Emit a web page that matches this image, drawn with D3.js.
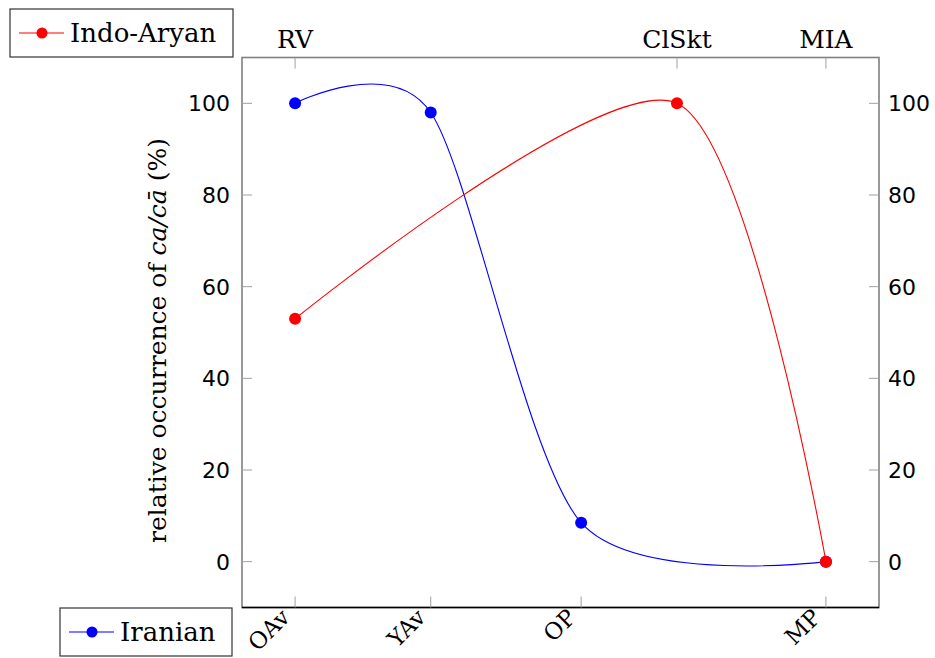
<!DOCTYPE html>
<html>
<head>
<meta charset="utf-8">
<script src="https://cdn.jsdelivr.net/npm/d3@7"></script>
<style>
  html, body { margin: 0; padding: 0; background: #fff; }
  svg { display: block; }
  .serif { font-family: "DejaVu Serif", serif; fill: #000; }
  .sans { font-family: "DejaVu Sans", sans-serif; fill: #000; }
</style>
</head>
<body>
<svg id="chart" width="935" height="658"></svg>
<script>
// Period positions (approximate dates, BCE negative)
const bottomPeriods = ["OAv", "YAv", "OP", "MP"];
const bottomPos = [-1500, -1040, -530, 300];
const topPeriods = ["RV", "ClSkt", "MIA"];
const topPos = [-1500, -205, 300];

// Relative occurrence of ca/cā (%)
const iranianValues = [100, 98, 8.5, 0];
const indoAryanValues = [53, 100, 0];

const yTicks = [0, 20, 40, 60, 80, 100];

const W = 935, H = 658;
const plot = { left: 242, right: 879, top: 57.5, bottom: 607.5 };

const svg = d3.select("#chart");

// enlarge limits by 10% of the data range
const xMin = -1500, xMax = 300, xPad = (xMax - xMin) * 0.1;
const x = d3.scaleLinear().domain([xMin - xPad, xMax + xPad]).range([plot.left, plot.right]);
const y = d3.scaleLinear().domain([-10, 110]).range([plot.bottom, plot.top]);

// smooth curve with end points as their own control points (tension 0.55)
function smoothCurve(context) {
  let pts = [];
  const k = 0.13875;
  return {
    areaStart() {}, areaEnd() {},
    lineStart() { pts = []; },
    point(px, py) { pts.push([+px, +py]); },
    lineEnd() {
      const n = pts.length;
      if (!n) return;
      context.moveTo(pts[0][0], pts[0][1]);
      for (let i = 0; i < n - 1; i++) {
        const p = pts[i], q = pts[i + 1];
        let c1 = p, c2 = q;
        if (i > 0) {
          const a = pts[i - 1];
          c1 = [p[0] + k * (q[0] - a[0]), p[1] + k * (q[1] - a[1])];
        }
        if (i + 2 < n) {
          const b = pts[i + 2];
          c2 = [q[0] - k * (b[0] - p[0]), q[1] - k * (b[1] - p[1])];
        }
        context.bezierCurveTo(c1[0], c1[1], c2[0], c2[1], q[0], q[1]);
      }
    }
  };
}

const line = d3.line().x(d => x(d[0])).y(d => y(d[1])).curve(smoothCurve);

// frame
svg.append("rect")
  .attr("x", plot.left).attr("y", plot.top)
  .attr("width", plot.right - plot.left).attr("height", plot.bottom - plot.top)
  .attr("fill", "none").attr("stroke", "#808080").attr("stroke-width", 1.6);
svg.append("line")
  .attr("x1", plot.left).attr("x2", plot.right)
  .attr("y1", plot.bottom).attr("y2", plot.bottom)
  .attr("stroke", "#000").attr("stroke-width", 1.4);

const tickLen = 10;
const tickColor = "#a0a0a0";

// left and right y ticks
yTicks.forEach(v => {
  svg.append("line").attr("x1", plot.left).attr("x2", plot.left + tickLen)
    .attr("y1", y(v)).attr("y2", y(v)).attr("stroke", tickColor).attr("stroke-width", 1);
  svg.append("line").attr("x1", plot.right - tickLen).attr("x2", plot.right)
    .attr("y1", y(v)).attr("y2", y(v)).attr("stroke", tickColor).attr("stroke-width", 1);
  svg.append("text").attr("class", "sans").attr("font-size", 22)
    .attr("x", plot.left - 12).attr("y", y(v)).attr("dy", "0.36em")
    .attr("text-anchor", "end").text(v);
  svg.append("text").attr("class", "sans").attr("font-size", 22)
    .attr("x", plot.right + 9).attr("y", y(v)).attr("dy", "0.36em")
    .attr("text-anchor", "start").text(v);
});

// bottom ticks with rotated labels
bottomPeriods.forEach((name, i) => {
  const px = x(bottomPos[i]);
  svg.append("line").attr("x1", px).attr("x2", px)
    .attr("y1", plot.bottom - tickLen - 1).attr("y2", plot.bottom)
    .attr("stroke", tickColor).attr("stroke-width", 1);
  svg.append("text").attr("class", "serif").attr("font-size", 23)
    .attr("transform", `translate(${px - 16},${plot.bottom - 1}) rotate(-45)`)
    .attr("text-anchor", "end").attr("dy", "0.75em")
    .text(name);
});

// top ticks with labels
topPeriods.forEach((name, i) => {
  const px = x(topPos[i]);
  svg.append("line").attr("x1", px).attr("x2", px)
    .attr("y1", plot.top).attr("y2", plot.top + tickLen + 1)
    .attr("stroke", tickColor).attr("stroke-width", 1);
  svg.append("text").attr("class", "serif").attr("font-size", 25)
    .attr("x", px).attr("y", plot.top - 10)
    .attr("text-anchor", "middle").text(name);
});

// y axis label
const yl = svg.append("text").attr("class", "serif").attr("font-size", 25)
  .attr("transform", `translate(166,${(plot.top + plot.bottom) / 2 + 8}) rotate(-90)`)
  .attr("text-anchor", "middle");
yl.append("tspan").text("relative occurrence of ");
yl.append("tspan").attr("font-style", "italic").text("ca/cā");
yl.append("tspan").text(" (%)");

// series
const series = [
  { name: "Iranian", color: "#0000ff", pts: bottomPos.map((p, i) => [p, iranianValues[i]]) },
  { name: "Indo-Aryan", color: "#ff0000", pts: topPos.map((p, i) => [p, indoAryanValues[i]]) }
];

series.forEach(s => {
  svg.append("path").datum(s.pts).attr("d", line)
    .attr("fill", "none").attr("stroke", s.color).attr("stroke-width", 1.1);
});
series.forEach(s => {
  svg.append("g").selectAll("circle").data(s.pts).join("circle")
    .attr("cx", d => x(d[0])).attr("cy", d => y(d[1])).attr("r", 6)
    .attr("fill", s.color);
});

// legends
function legend(box, s) {
  const g = svg.append("g");
  g.append("rect").attr("x", box.x).attr("y", box.y).attr("width", box.w).attr("height", box.h)
    .attr("fill", "#fff").attr("stroke", "#333").attr("stroke-width", 1.2);
  const cy = box.y + box.h / 2;
  g.append("line").attr("x1", box.x + 9).attr("x2", box.x + 54).attr("y1", cy).attr("y2", cy)
    .attr("stroke", s.color).attr("stroke-width", 1.1);
  g.append("circle").attr("cx", box.x + 32).attr("cy", cy).attr("r", 5.5).attr("fill", s.color);
  g.append("text").attr("class", "serif").attr("font-size", 26)
    .attr("x", box.x + 60).attr("y", cy + 9).text(s.name);
}
legend({ x: 10, y: 9, w: 223, h: 48 }, series[1]);
legend({ x: 60, y: 608, w: 172, h: 48 }, series[0]);
</script>
</body>
</html>
